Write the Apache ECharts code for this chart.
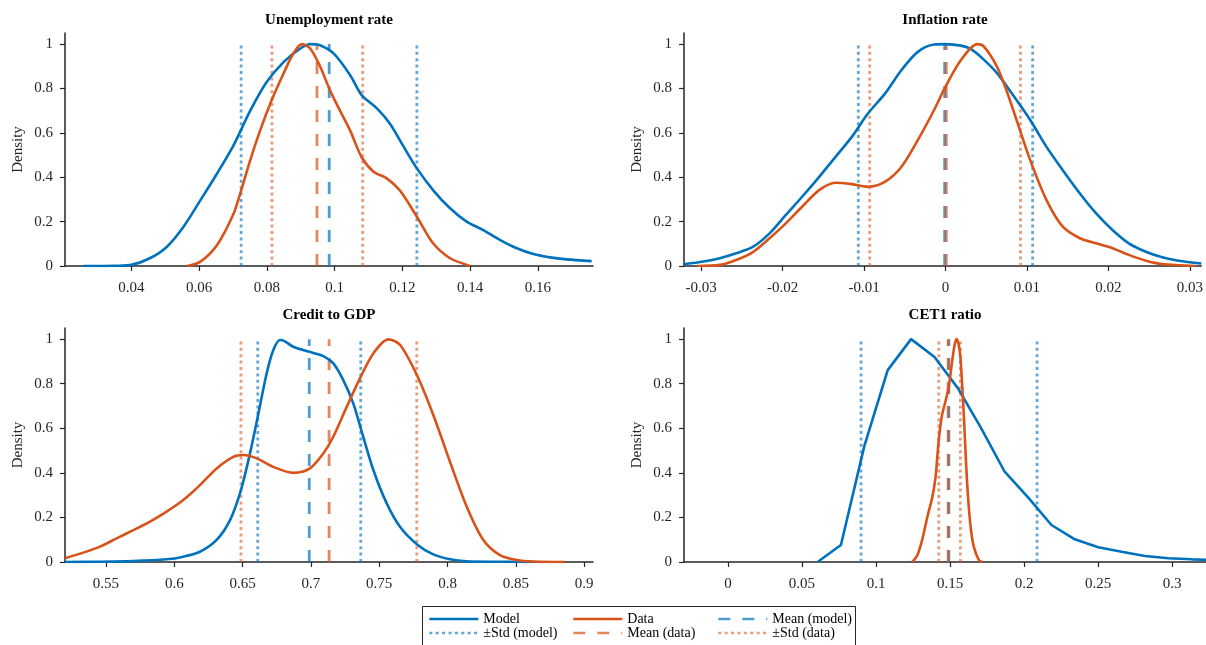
<!DOCTYPE html>
<html lang="en">
  <head>
    <meta charset="UTF-8">
    <title>Model vs data densities</title>
    <script src="https://cdn.jsdelivr.net/npm/echarts@6/dist/echarts.min.js"></script>
    <style>
      html, body { margin: 0; padding: 0; background: #fff; }
      #main { width: 1206px; height: 645px; }
    </style>
  </head>
  <body>
    <div id="main"></div>
    <script type="text/javascript">
      // ---- data ----
      var titles = ['Unemployment rate', 'Inflation rate', 'Credit to GDP', 'CET1 ratio'];
      var yTicks = [0, 0.2, 0.4, 0.6, 0.8, 1];

      // x tick labels per panel
      var unempTicks = [0.04, 0.06, 0.08, 0.1, 0.12, 0.14, 0.16];
      var inflTicks = [-0.03, -0.02, -0.01, 0, 0.01, 0.02, 0.03];
      var creditTicks = [0.55, 0.6, 0.65, 0.7, 0.75, 0.8, 0.85, 0.9];
      var cet1Ticks = [0, 0.05, 0.1, 0.15, 0.2, 0.25, 0.3];

      // x ranges per panel
      var xMins = [0.0204, -0.0321, 0.52, -0.0297];
      var xMaxs = [0.1763, 0.0314, 0.9065, 0.3229];

      // unemployment
      var unempModelX = [0.0259, 0.0355, 0.04, 0.0456, 0.0505, 0.0554, 0.0604, 0.0653, 0.0702, 0.0751, 0.08, 0.085, 0.0899, 0.0928, 0.0957, 0.0997, 0.1046, 0.108, 0.1125, 0.1164, 0.1203, 0.1243, 0.1292, 0.1341, 0.139, 0.1439, 0.1489, 0.1538, 0.1587, 0.1636, 0.1685, 0.1759];
      var unempModelY = [0, 0.001, 0.005, 0.036, 0.087, 0.177, 0.297, 0.417, 0.545, 0.70, 0.83, 0.92, 0.98, 1.0, 0.995, 0.958, 0.86, 0.77, 0.71, 0.64, 0.54, 0.44, 0.34, 0.26, 0.2, 0.162, 0.117, 0.08, 0.054, 0.039, 0.03, 0.022];
      var unempDataX = [0.0564, 0.0604, 0.0653, 0.0702, 0.0724, 0.0751, 0.078, 0.0815, 0.085, 0.0879, 0.0904, 0.0928, 0.0957, 0.0987, 0.1016, 0.1046, 0.108, 0.1115, 0.1154, 0.1193, 0.1243, 0.1292, 0.1341, 0.139, 0.14];
      var unempDataY = [0, 0.02, 0.095, 0.237, 0.34, 0.477, 0.61, 0.75, 0.87, 0.96, 1.0, 0.98, 0.9, 0.79, 0.7, 0.61, 0.49, 0.425, 0.395, 0.34, 0.222, 0.1, 0.035, 0.005, 0];

      // inflation
      var inflModelX = [-0.0321, -0.0297, -0.0277, -0.0257, -0.0236, -0.0216, -0.0196, -0.0176, -0.0155, -0.0135, -0.0115, -0.0095, -0.0074, -0.0054, -0.0034, -0.0014, 0, 0.0019, 0.0031, 0.0047, 0.0063, 0.0079, 0.0104, 0.0124, 0.0144, 0.0165, 0.0185, 0.0205, 0.0225, 0.0246, 0.0266, 0.0286, 0.0314];
      var inflModelY = [0.008, 0.02, 0.035, 0.057, 0.087, 0.147, 0.23, 0.312, 0.402, 0.492, 0.582, 0.688, 0.778, 0.883, 0.965, 0.998, 1.0, 0.993, 0.978, 0.93, 0.87, 0.79, 0.658, 0.537, 0.432, 0.327, 0.237, 0.162, 0.102, 0.064, 0.039, 0.024, 0.011];
      var inflDataX = [-0.0305, -0.0277, -0.0257, -0.0236, -0.0216, -0.0196, -0.0176, -0.0155, -0.0135, -0.0115, -0.0095, -0.0074, -0.0054, -0.0034, -0.0014, 0, 0.0019, 0.0039, 0.0047, 0.0063, 0.0075, 0.0088, 0.0104, 0.0124, 0.0144, 0.0165, 0.0185, 0.0205, 0.0225, 0.0246, 0.0266, 0.0307];
      var inflDataY = [0, 0.005, 0.027, 0.064, 0.125, 0.192, 0.267, 0.342, 0.375, 0.369, 0.357, 0.38, 0.447, 0.567, 0.703, 0.808, 0.928, 1.0, 0.99, 0.9, 0.79, 0.65, 0.477, 0.297, 0.177, 0.125, 0.102, 0.08, 0.05, 0.024, 0.009, 0];

      // credit to GDP
      var creditModelX = [0.52, 0.5456, 0.57, 0.5944, 0.6066, 0.6188, 0.631, 0.6408, 0.6488, 0.6554, 0.6611, 0.6676, 0.6725, 0.6774, 0.681, 0.6871, 0.6988, 0.7091, 0.7164, 0.7237, 0.731, 0.7365, 0.7457, 0.7555, 0.7652, 0.7775, 0.7896, 0.8018, 0.8141, 0.8384, 0.8628];
      var creditModelY = [0, 0.001, 0.004, 0.012, 0.024, 0.046, 0.099, 0.188, 0.323, 0.487, 0.652, 0.846, 0.951, 0.996, 0.99, 0.966, 0.943, 0.924, 0.891, 0.816, 0.712, 0.6, 0.413, 0.263, 0.158, 0.08, 0.034, 0.012, 0.003, 0.001, 0];
      var creditDataX = [0.52, 0.5334, 0.5456, 0.5578, 0.57, 0.5822, 0.5944, 0.6066, 0.6188, 0.631, 0.6432, 0.6505, 0.6603, 0.6725, 0.6871, 0.6993, 0.7091, 0.7164, 0.7262, 0.7359, 0.7457, 0.7567, 0.7652, 0.7775, 0.7896, 0.8018, 0.8141, 0.8262, 0.8384, 0.8506, 0.8628, 0.886];
      var creditDataY = [0.017, 0.042, 0.069, 0.106, 0.143, 0.181, 0.226, 0.278, 0.345, 0.42, 0.472, 0.48, 0.465, 0.427, 0.4, 0.42, 0.487, 0.562, 0.696, 0.824, 0.936, 0.999, 0.975, 0.84, 0.66, 0.45, 0.248, 0.099, 0.031, 0.009, 0.002, 0];

      // CET1 ratio (model curve is a coarse grid, drawn straight)
      var cet1ModelX = [0.0605, 0.0763, 0.0921, 0.1079, 0.1237, 0.1395, 0.1553, 0.1711, 0.1869, 0.2027, 0.2185, 0.2343, 0.2501, 0.2659, 0.2817, 0.2975, 0.3133, 0.3291];
      var cet1ModelY = [0, 0.076, 0.52, 0.861, 1.0, 0.92, 0.78, 0.6, 0.405, 0.29, 0.166, 0.102, 0.066, 0.046, 0.027, 0.017, 0.012, 0.009];
      var cet1DataX = [0.1245, 0.1279, 0.1312, 0.1346, 0.138, 0.1402, 0.1424, 0.1446, 0.1469, 0.1492, 0.1514, 0.153, 0.1543, 0.1557, 0.157, 0.1593, 0.1615, 0.1637, 0.166, 0.1694, 0.1717];
      var cet1DataY = [0, 0.03, 0.1, 0.2, 0.29, 0.38, 0.55, 0.66, 0.72, 0.79, 0.9, 0.97, 1.0, 0.98, 0.92, 0.66, 0.36, 0.17, 0.07, 0.01, 0];

      // means and +-std per panel
      var meanModel = [0.0984, -0.0001, 0.6988, 0.1492];
      var meanData = [0.0948, 0.0001, 0.7133, 0.1487];
      var stdModelLo = [0.0724, -0.0107, 0.6611, 0.0899];
      var stdModelHi = [0.1243, 0.0107, 0.7365, 0.2088];
      var stdDataLo = [0.0815, -0.0093, 0.6488, 0.1424];
      var stdDataHi = [0.1083, 0.0092, 0.7775, 0.157];

      var modelX = [unempModelX, inflModelX, creditModelX, cet1ModelX];
      var modelY = [unempModelY, inflModelY, creditModelY, cet1ModelY];
      var dataX = [unempDataX, inflDataX, creditDataX, cet1DataX];
      var dataY = [unempDataY, inflDataY, creditDataY, cet1DataY];
      var xTicks = [unempTicks, inflTicks, creditTicks, cet1Ticks];
      var smoothModel = [0.3, 0.3, 0.3, false];

      // ---- layout / style ----
      var FONT = 'Liberation Serif';
      var INK = '#262626';
      var BLUE = '#0072BD';
      var ORANGE = '#D95319';
      var BLUE_MEAN = 'rgba(0,114,189,0.7)';
      var ORANGE_MEAN = 'rgba(217,83,25,0.7)';
      var BLUE_STD = 'rgba(0,114,189,0.62)';
      var ORANGE_STD = 'rgba(217,83,25,0.58)';
      var DASH = [12, 12];
      var DOT = [3, 3.4];

      var grids = [
        {left: 65, top: 33, width: 528, height: 233},
        {left: 684, top: 33, width: 522, height: 233},
        {left: 65, top: 328, width: 528, height: 234},
        {left: 684, top: 328, width: 522, height: 234}
      ];

      function zip(xs, ys) {
        return xs.map(function (x, i) { return [x, ys[i]]; });
      }

      function curve(name, xs, ys, color, gi, smooth) {
        return {
          type: 'line', name: name, xAxisIndex: gi, yAxisIndex: gi,
          data: zip(xs, ys), symbol: 'none', smooth: smooth,
          lineStyle: {color: color, width: 2.6}, itemStyle: {color: color},
          z: 4, silent: true
        };
      }

      function vline(name, x, color, dash, gi) {
        return {
          type: 'line', name: name, xAxisIndex: gi, yAxisIndex: gi,
          data: [[x, 0], [x, 1]], symbol: 'none',
          lineStyle: {color: color, width: 2.8, type: dash, cap: 'butt'},
          itemStyle: {color: color},
          z: 2, silent: true
        };
      }

      var xAxes = [], yAxes = [], series = [], titleList = [];
      for (var i = 0; i < 4; i++) {
        var g = grids[i];
        xAxes.push({
          type: 'value', gridIndex: i, min: xMins[i], max: xMaxs[i],
          splitLine: {show: false},
          axisLine: {onZero: false, lineStyle: {color: INK, width: 1.5}},
          axisTick: {customValues: xTicks[i], length: 5, lineStyle: {color: INK, width: 1.2}},
          axisLabel: {customValues: xTicks[i], margin: 15, fontFamily: FONT, fontSize: 15, color: INK}
        });
        yAxes.push({
          type: 'value', gridIndex: i, min: 0, max: 1.05,
          name: 'Density', nameLocation: 'middle', nameGap: 39,
          nameTextStyle: {fontFamily: FONT, fontSize: 15, color: INK},
          splitLine: {show: false},
          axisLine: {show: true, onZero: false, lineStyle: {color: INK, width: 1.5}},
          axisTick: {customValues: yTicks, length: 5, lineStyle: {color: INK, width: 1.2}},
          axisLabel: {customValues: yTicks, margin: 12, fontFamily: FONT, fontSize: 15, color: INK}
        });
        titleList.push({
          text: titles[i], left: g.left + g.width / 2, top: g.top - 20, textAlign: 'center', padding: 0,
          textStyle: {fontFamily: FONT, fontSize: 15, fontWeight: 'bold', color: '#000'}
        });

        series.push(vline('±Std (model)', stdModelLo[i], BLUE_STD, DOT, i));
        series.push(vline('±Std (model)', stdModelHi[i], BLUE_STD, DOT, i));
        series.push(vline('±Std (data)', stdDataLo[i], ORANGE_STD, DOT, i));
        series.push(vline('±Std (data)', stdDataHi[i], ORANGE_STD, DOT, i));
        series.push(vline('Mean (model)', meanModel[i], BLUE_MEAN, DASH, i));
        series.push(vline('Mean (data)', meanData[i], ORANGE_MEAN, DASH, i));
        series.push(curve('Model', modelX[i], modelY[i], BLUE, i, smoothModel[i]));
        series.push(curve('Data', dataX[i], dataY[i], ORANGE, i, 0.3));
      }

      function legendCol(left, names) {
        return {
          left: left, top: 612, orient: 'vertical', padding: 0,
          itemWidth: 49, itemHeight: 14, itemGap: 0, selectedMode: false,
          lineStyle: {width: 2.6},
          itemStyle: {opacity: 0, borderWidth: 0},
          textStyle: {fontFamily: FONT, fontSize: 14, color: '#000', lineHeight: 14},
          data: names, z: 10
        };
      }

      var chart = echarts.init(document.getElementById('main'), null, {renderer: 'canvas'});
      chart.setOption({
        animation: false,
        backgroundColor: '#fff',
        title: titleList,
        grid: grids,
        xAxis: xAxes,
        yAxis: yAxes,
        legend: [
          legendCol(428, ['Model', '±Std (model)']),
          legendCol(572, ['Data', 'Mean (data)']),
          legendCol(717, ['Mean (model)', '±Std (data)'])
        ],
        graphic: [{
          type: 'rect', z: 1,
          shape: {x: 422.5, y: 606.5, width: 433, height: 50},
          style: {fill: '#fff', stroke: INK, lineWidth: 1}
        }],
        series: series
      });
    </script>
  </body>
</html>
